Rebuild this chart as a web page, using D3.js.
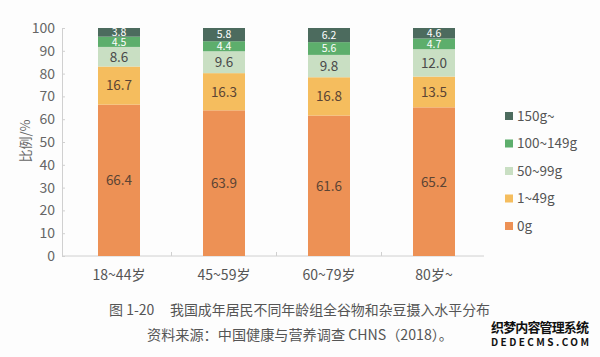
<!DOCTYPE html>
<html><head><meta charset="utf-8">
<script src="https://cdn.jsdelivr.net/npm/d3@7"></script>
<style>body{margin:0;background:#fdfdfd;} text{font-family:"Noto Sans CJK SC","Noto Sans",sans-serif;}</style>
</head><body>
<svg id="c" width="600" height="357"></svg>
<script>
const categories = ["18~44岁","45~59岁","60~79岁","80岁~"];
const seriesNames = ["0g","1~49g","50~99g","100~149g","150g~"];
const v0g = [66.4,63.9,61.6,65.2];
const v1_49 = [16.7,16.3,16.8,13.5];
const v50_99 = [8.6,9.6,9.8,12.0];
const v100_149 = [4.5,4.4,5.6,4.7];
const v150 = [3.8,5.8,6.2,4.6];
const yTicks = [0,10,20,30,40,50,60,70,80,90,100];
const colors = ["#ED9155","#F5BD5E","#C9DFC3","#5DAE6C","#4C6B5E"];
const labelColors = ["#5b4434","#5b4434","#4a4a4a","#ffffff","#ffffff"];
const seriesValues = [v0g,v1_49,v50_99,v100_149,v150];

const svg = d3.select("#c");
const x = d3.scaleBand().domain(categories).range([66.5,486.5]).paddingInner(0.6).paddingOuter(0.3);
const y = d3.scaleLinear().domain([0,100]).range([256,28]);

const rows = categories.map((c,i)=>{const r={cat:c}; seriesNames.forEach((s,j)=>r[s]=seriesValues[j][i]); return r;});
const stacked = d3.stack().keys(seriesNames)(rows);

// axes
const ya = svg.append("g").attr("transform","translate(62,0)")
  .call(d3.axisLeft(y).tickValues(yTicks).tickSize(0).tickPadding(7));
ya.select(".domain").attr("stroke","#d0d0d0");
ya.selectAll(".tick").append("line").attr("x1",0).attr("x2",3).attr("stroke","#d0d0d0");
ya.selectAll(".tick text").attr("fill","#666").attr("font-size",14).attr("font-family","Liberation Sans, Arial, sans-serif");

const xa = svg.append("g").attr("transform","translate(0,256)");
xa.append("line").attr("x1",62).attr("x2",484).attr("stroke","#d0d0d0");
const bounds = categories.slice(1).map(c=>x(c)-x.step()*x.paddingInner()/2);
xa.selectAll("line.t").data(bounds).join("line").attr("class","t")
  .attr("x1",d=>d).attr("x2",d=>d).attr("y1",0).attr("y2",-4).attr("stroke","#d0d0d0");
xa.selectAll("text").data(categories).join("text")
  .attr("x",d=>x(d)+x.bandwidth()/2).attr("y",24).attr("text-anchor","middle")
  .attr("font-size",14).attr("fill","#555").text(d=>d);

svg.append("text").attr("transform","translate(30,141) rotate(-90)").attr("text-anchor","middle")
  .attr("font-size",13).attr("fill","#666").text("比例/%");

// bars
stacked.forEach((layer,j)=>{
  const g = svg.append("g");
  g.selectAll("rect").data(layer).join("rect")
    .attr("x",d=>x(d.data.cat)).attr("width",x.bandwidth())
    .attr("y",d=>y(d[1])).attr("height",d=>y(d[0])-y(d[1])).attr("fill",colors[j]);
  g.selectAll("text").data(layer).join("text")
    .attr("x",d=>x(d.data.cat)+x.bandwidth()/2).attr("y",d=>(y(d[0])+y(d[1]))/2)
    .attr("dy","0.36em").attr("text-anchor","middle").attr("font-size",j>=3?10.5:13.5)
    .attr("font-family","Liberation Sans, Arial, sans-serif")
    .attr("fill",labelColors[j]).text((d,i)=>seriesValues[j][i].toFixed(1));
});

// legend
const legendOrder = seriesNames.slice().reverse();
const lg = svg.append("g");
legendOrder.forEach((s,i)=>{
  const k = seriesNames.indexOf(s);
  const yy = 116 + i*27.5;
  lg.append("rect").attr("x",505).attr("y",yy-4).attr("width",8).attr("height",8).attr("fill",colors[k]);
  lg.append("text").attr("x",517).attr("y",yy).attr("dy","0.36em").attr("font-size",13.5)
    .attr("font-family","Liberation Sans, Arial, sans-serif").attr("fill","#555").text(s);
});

// caption
svg.append("text").attr("x",109).attr("y",315).attr("font-size",14).attr("fill","#555")
  .text("图 1-20");
svg.append("text").attr("x",170).attr("y",315).attr("font-size",14).attr("fill","#555")
  .attr("textLength",320).attr("lengthAdjust","spacingAndGlyphs")
  .text("我国成年居民不同年龄组全谷物和杂豆摄入水平分布");
svg.append("text").attr("x",147).attr("y",340).attr("font-size",14).attr("fill","#555")
  .attr("textLength",306).attr("lengthAdjust","spacingAndGlyphs")
  .text("资料来源：中国健康与营养调查 CHNS（2018）。");

// watermark
svg.append("text").attr("x",491).attr("y",332).attr("font-size",13).attr("font-weight","bold").attr("fill","#111")
  .attr("textLength",98).text("织梦内容管理系统");
svg.append("text").attr("x",491).attr("y",346).attr("font-size",10).attr("font-weight","bold").attr("fill","#111")
  .attr("font-family","DejaVu Sans Mono, monospace").attr("textLength",98).text("DEDECMS.COM");
</script>
</body></html>
